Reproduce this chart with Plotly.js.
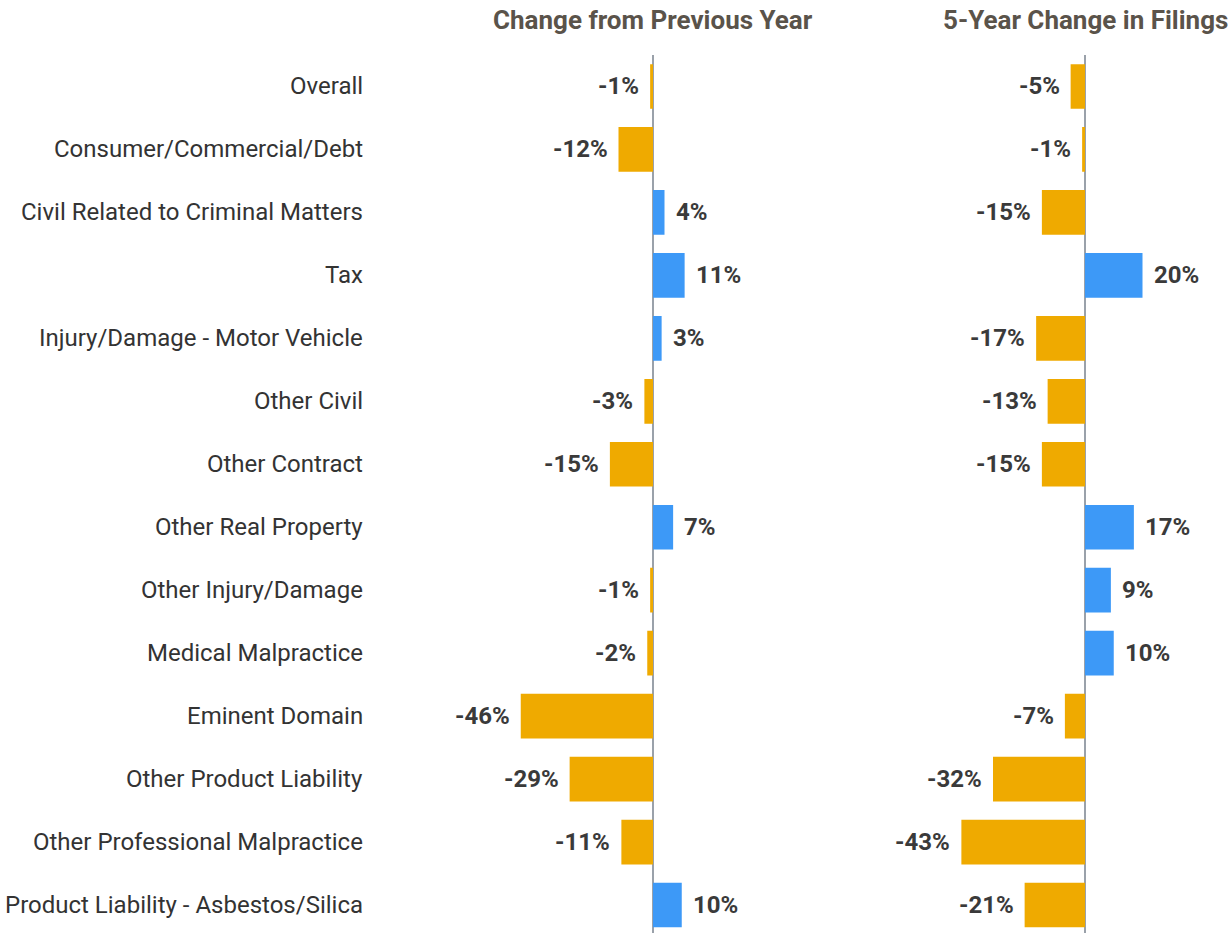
<!DOCTYPE html>
<html>
<head>
<meta charset="utf-8">
<script src="https://cdn.plot.ly/plotly-3.0.1.min.js"></script>
<style>html,body{margin:0;padding:0;background:#fff;}#chart{width:1230px;height:933px;}</style>
</head>
<body>
<div id="chart"></div>
<script>
const categories = [
  "Overall",
  "Consumer/Commercial/Debt",
  "Civil Related to Criminal Matters",
  "Tax",
  "Injury/Damage - Motor Vehicle",
  "Other Civil",
  "Other Contract",
  "Other Real Property",
  "Other Injury/Damage",
  "Medical Malpractice",
  "Eminent Domain",
  "Other Product Liability",
  "Other Professional Malpractice",
  "Product Liability - Asbestos/Silica"
];
const changePrevYear = [-1, -12, 4, 11, 3, -3, -15, 7, -1, -2, -46, -29, -11, 10];
const change5Year = [-5, -1, -15, 20, -17, -13, -15, 17, 9, 10, -7, -32, -43, -21];
const panelTitles = ["Change from Previous Year", "5-Year Change in Filings"];

const ORANGE = "#EFAA00";
const BLUE = "#3D99F7";
const colorsFor = vals => vals.map(v => v < 0 ? ORANGE : BLUE);

const W = 1230, H = 933;
const pxPerUnit = 2.875;
const zero1 = 653, zero2 = 1085;
const r1 = [-50, 28], r2 = [-50, 45];
const dom = (z, r) => [(z + r[0] * pxPerUnit) / W, (z + r[1] * pxPerUnit) / W];
const FONT = "Roboto, sans-serif";

const traces = [
  {type: "bar", orientation: "h", x: changePrevYear, y: categories, xaxis: "x", yaxis: "y",
   marker: {color: colorsFor(changePrevYear)}, hoverinfo: "x+y"},
  {type: "bar", orientation: "h", x: change5Year, y: categories, xaxis: "x2", yaxis: "y2",
   marker: {color: colorsFor(change5Year)}, hoverinfo: "x+y"}
];

const valueFont = {family: FONT, size: 24, color: "#3a3a3a"};
const annotations = [];
[[changePrevYear, "x", "y"], [change5Year, "x2", "y2"]].forEach(([vals, xr, yr]) => {
  vals.forEach((v, i) => {
    annotations.push({
      x: v, y: categories[i], xref: xr, yref: yr,
      text: "<b>" + v + "%</b>", showarrow: false,
      xanchor: v < 0 ? "right" : "left", xshift: v < 0 ? -9 : 9,
      font: valueFont
    });
  });
});
categories.forEach(c => {
  annotations.push({
    x: 365 / W, xref: "paper", y: c, yref: "y", xanchor: "right",
    text: c, showarrow: false, font: {family: FONT, size: 24, color: "#333"}
  });
});
[["x", panelTitles[0]], ["x2", panelTitles[1]]].forEach(([xr, t]) => {
  annotations.push({
    x: 0, xref: xr, y: 1, yref: "paper", yanchor: "bottom", yshift: 18,
    text: "<b>" + t + "</b>", showarrow: false,
    font: {family: FONT, size: 26, color: "#5a534a"}
  });
});

const rowPx = 63.0;
const topPx = 86 - rowPx / 2;
const bottomVal = -0.5 + (H - topPx) / rowPx;

const layout = {
  width: W, height: H,
  margin: {l: 0, r: 0, t: topPx, b: 0},
  paper_bgcolor: "#fff", plot_bgcolor: "#fff",
  showlegend: false,
  bargap: 0.29,
  font: {family: FONT, size: 22, color: "#333"},
  xaxis: {domain: dom(zero1, r1), range: r1, showgrid: false, showticklabels: false, ticks: "",
          zeroline: true, zerolinecolor: "#9aa1aa", zerolinewidth: 2, fixedrange: true},
  xaxis2: {domain: dom(zero2, r2), range: r2, showgrid: false, showticklabels: false, ticks: "",
           zeroline: true, zerolinecolor: "#9aa1aa", zerolinewidth: 2, fixedrange: true},
  yaxis: {anchor: "x", range: [bottomVal, -0.5], showgrid: false, showticklabels: false,
          ticks: "", showline: false, zeroline: false},
  yaxis2: {anchor: "x2", range: [bottomVal, -0.5], showgrid: false, showticklabels: false,
           ticks: "", zeroline: false},
  annotations: annotations
};

Plotly.newPlot("chart", traces, layout, {displayModeBar: false, staticPlot: true});
</script>
</body>
</html>
